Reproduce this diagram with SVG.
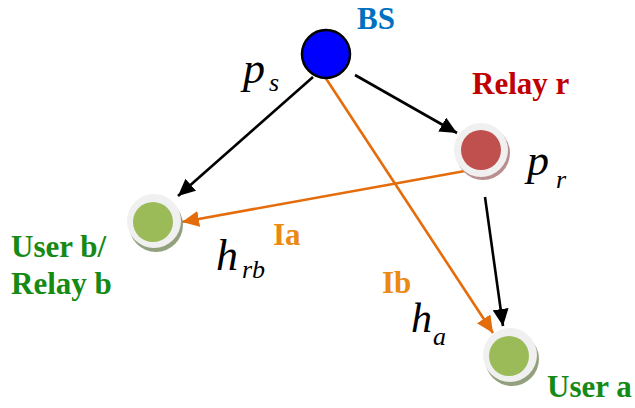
<svg xmlns="http://www.w3.org/2000/svg" width="635" height="408" viewBox="0 0 635 408">
<style>
.lbl{font-weight:bold;font-size:31px}
.math{font-style:italic;fill:#000}
.blk{stroke:#000;stroke-width:2.6;fill:none}
.org{stroke:#E46C0A;stroke-width:2.6;fill:none}
.ring{fill:#F0F0F0}
</style>
<defs>
<marker id="ab" markerUnits="userSpaceOnUse" markerWidth="18" markerHeight="16" viewBox="0 0 18 16" refX="17" refY="8" orient="auto">
<path d="M0,0 L17,8 L0,16 Z" fill="#000"/>
</marker>
<marker id="ao" markerUnits="userSpaceOnUse" markerWidth="18" markerHeight="16" viewBox="0 0 18 16" refX="17" refY="8" orient="auto">
<path d="M0,0 L17,8 L0,16 Z" fill="#E46C0A"/>
</marker>
</defs>
<rect width="635" height="408" fill="#fff"/>
<g id="connectors">
<line class="blk" x1="313" y1="77" x2="178" y2="196" marker-end="url(#ab)"/>
<line class="blk" x1="355" y1="75" x2="457" y2="133" marker-end="url(#ab)"/>
<line class="org" x1="325" y1="77" x2="493" y2="333" marker-end="url(#ao)"/>
<line class="org" x1="465" y1="171" x2="182" y2="222" marker-end="url(#ao)"/>
<line class="blk" x1="485" y1="197" x2="503" y2="326" marker-end="url(#ab)"/>
</g>
<g font-family="'Liberation Serif', 'Times New Roman', serif">
<g id="bs">
<circle cx="326" cy="54" r="24" fill="#0000FF" stroke="#000" stroke-width="2.5"/>
<text class="lbl" x="357" y="29" fill="#0070C0" font-size="29">BS</text>
<text class="math" x="243" y="83" font-size="44">p</text>
<text class="math" x="269" y="91" font-size="26">s</text>
</g>
<g id="relay-r">
<circle cx="483" cy="153" r="27" fill="#B88E8E"/>
<circle cx="481" cy="150" r="27" class="ring"/>
<circle cx="481" cy="150" r="20" fill="#C0504D"/>
<text class="lbl" x="472" y="94" fill="#C00000" font-size="30">Relay r</text>
<text class="math" x="527" y="175" font-size="44">p</text>
<text class="math" x="556" y="188" font-size="26">r</text>
</g>
<g id="user-b">
<circle cx="156" cy="225" r="27" fill="#93A07E"/>
<circle cx="154" cy="221" r="27" class="ring"/>
<circle cx="153" cy="222" r="20" fill="#9BBB59"/>
<text class="lbl" x="11" y="257" fill="#158A15">User b/</text>
<text class="lbl" x="11" y="294" fill="#158A15">Relay b</text>
<text class="math" x="216" y="270" font-size="44">h</text>
<text class="math" x="242" y="278" font-size="26">rb</text>
<text class="lbl" x="273" y="245" fill="#EB8A12">Ia</text>
</g>
<g id="user-a">
<circle cx="512" cy="359" r="27" fill="#93A07E"/>
<circle cx="510" cy="355" r="27" class="ring"/>
<circle cx="509" cy="356" r="20" fill="#9BBB59"/>
<text class="lbl" x="547" y="397" fill="#158A15">User a</text>
<text class="math" x="411" y="332" font-size="42">h</text>
<text class="math" x="433" y="345" font-size="26">a</text>
<text class="lbl" x="382" y="293" fill="#EB8A12">Ib</text>
</g>
</g>
</svg>
